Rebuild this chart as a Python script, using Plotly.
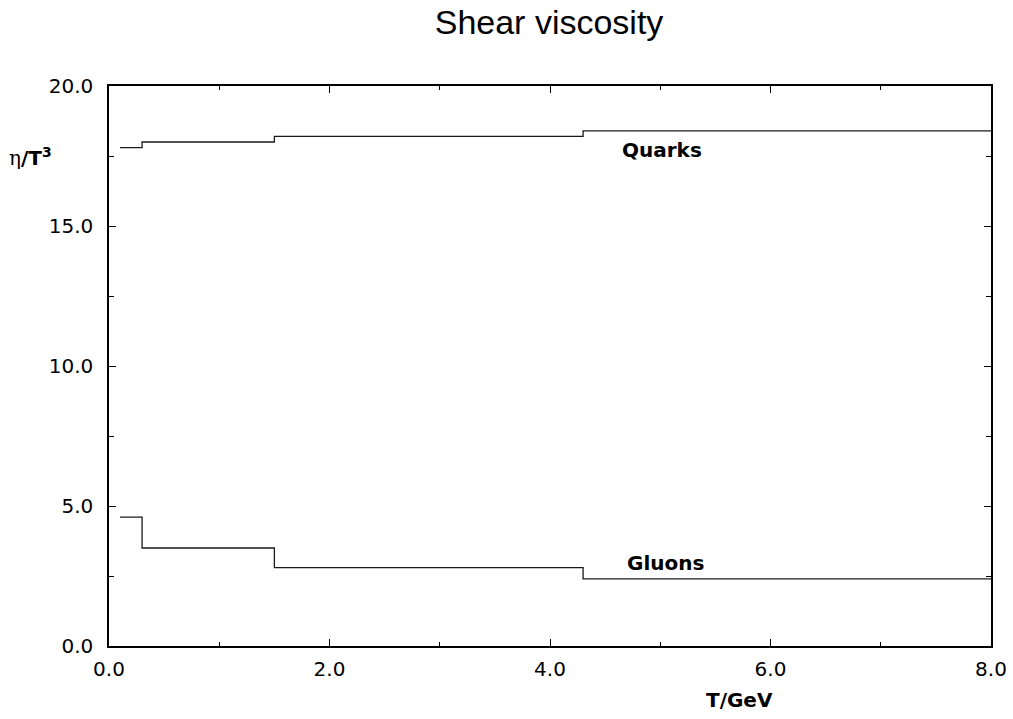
import plotly.graph_objects as go

# Temperature bin edges (GeV) and eta/T^3 in each bin
t_edges = [0.1, 0.3, 1.5, 4.3, 8.0]
quarks = [17.8, 18.0, 18.2, 18.4]
gluons = [4.6, 3.5, 2.8, 2.4]

x_ticks = [0, 2, 4, 6, 8]
y_ticks = [0, 5, 10, 15, 20]

LINE = "#1a1a1a"
TICK_FONT = dict(family="DejaVu Sans", size=20, color="black")
BOLD_FONT = dict(family="DejaVu Sans", size=20, color="black", weight="bold")


def step_y(vals):
    # repeat last value so the final bin reaches the right edge with shape 'hv'
    return list(vals) + [vals[-1]]


fig = go.Figure()
fig.add_trace(go.Scatter(x=t_edges, y=step_y(quarks), mode="lines",
                         line=dict(color=LINE, width=1.3, shape="hv"),
                         name="Quarks", showlegend=False))
fig.add_trace(go.Scatter(x=t_edges, y=step_y(gluons), mode="lines",
                         line=dict(color=LINE, width=1.3, shape="hv"),
                         name="Gluons", showlegend=False))

axis_common = dict(
    showgrid=False, zeroline=False, showline=True, linecolor="black",
    linewidth=1.5, mirror="ticks", ticks="inside", ticklen=7, tickwidth=1.2,
    tickcolor="black", tickformat=".1f", tickfont=TICK_FONT, automargin=False,
)

fig.update_xaxes(range=[0, 8], tickvals=x_ticks, ticklabelstandoff=4,
                 minor=dict(dtick=1, ticks="inside", ticklen=4, tickwidth=1.2,
                            tickcolor="black", showgrid=False),
                 **axis_common)
fig.update_yaxes(range=[0, 20], tickvals=y_ticks, ticklabelstandoff=10,
                 minor=dict(dtick=2.5, ticks="inside", ticklen=5, tickwidth=1.2,
                            tickcolor="black", showgrid=False),
                 **axis_common)

fig.add_annotation(x=5.02, y=17.7, text="Quarks", showarrow=False,
                   font=BOLD_FONT, xanchor="center", yanchor="middle")
fig.add_annotation(x=5.05, y=2.97, text="Gluons", showarrow=False,
                   font=BOLD_FONT, xanchor="center", yanchor="middle")
fig.add_annotation(x=5.72, y=-0.097, xref="x", yref="paper", text="T/GeV",
                   showarrow=False, font=BOLD_FONT, xanchor="center",
                   yanchor="middle")
fig.add_annotation(x=-0.089, y=0.873, xref="paper", yref="paper",
                   text=("<span style=\"font-weight:normal;font-family:'DejaVu Serif'\">η</span>"
                         "/T<sup>3</sup>"),
                   showarrow=False, font=BOLD_FONT,
                   xanchor="center", yanchor="middle")

fig.update_layout(
    width=1013, height=719,
    margin=dict(l=109, r=22, t=86, b=73, autoexpand=False),
    paper_bgcolor="white", plot_bgcolor="white",
    title=dict(text="Shear viscosity", x=0.542, xanchor="center",
               y=0.969, yanchor="middle",
               font=dict(family="Liberation Sans", size=34, color="black")),
)

fig.write_html("out.html")
